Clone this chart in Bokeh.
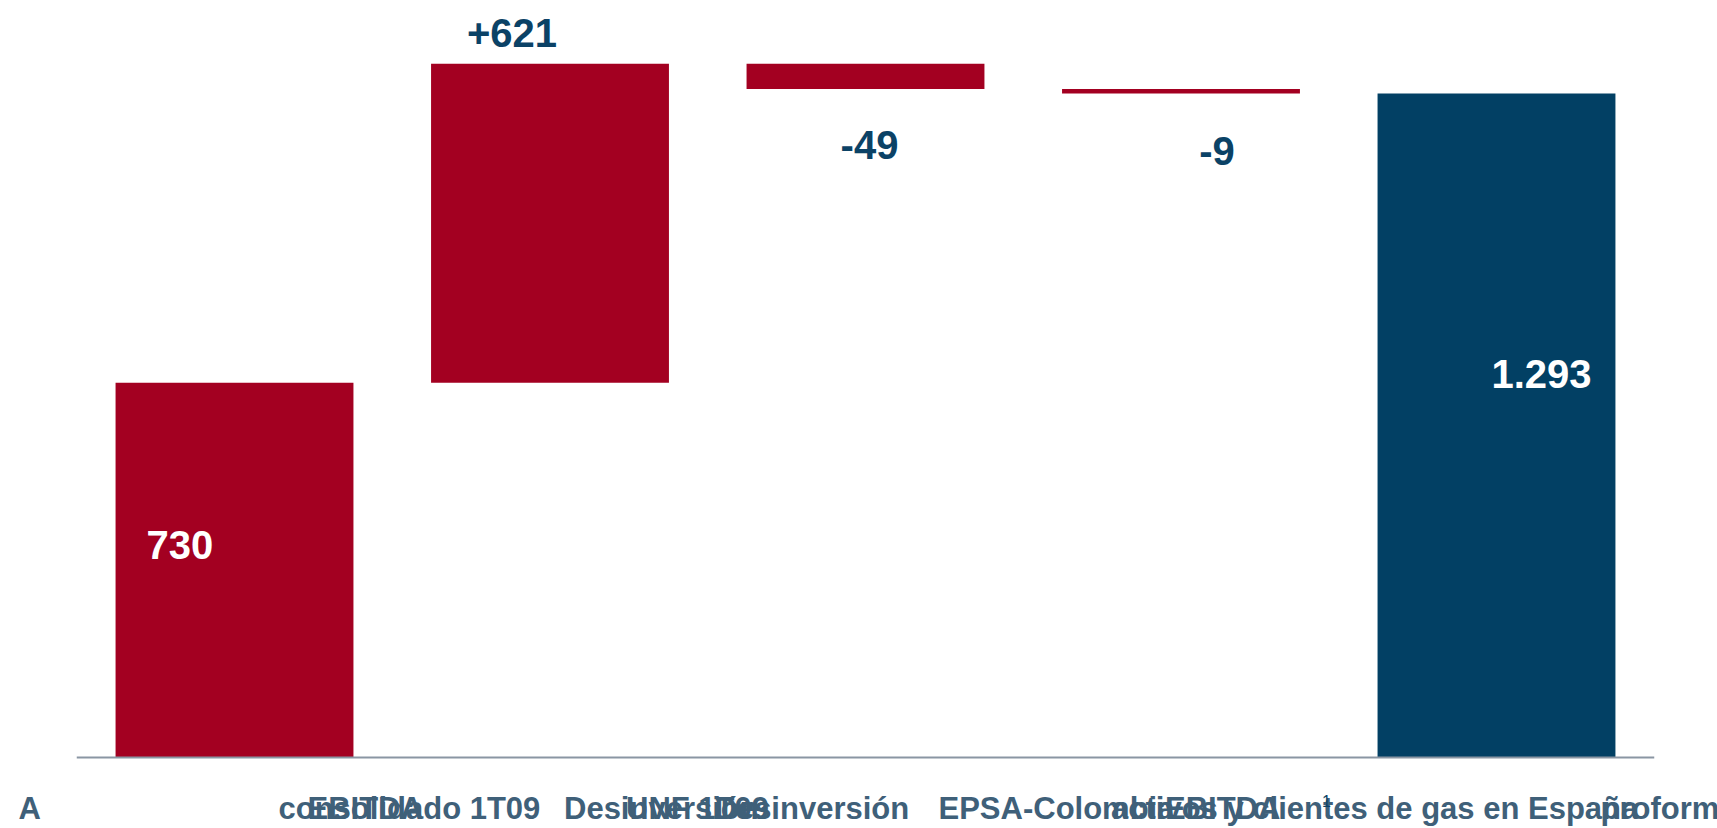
from bokeh.plotting import figure
from bokeh.models import Range1d, ColumnDataSource
from bokeh.core.properties import value
from bokeh.embed import file_html
from bokeh.resources import INLINE

# ---- data ----
start_value = 730
deltas = [621, -49, -9]
total_value = 1293
bar_labels = ["730", "+621", "-49", "-9", "1.293"]

# category label fragments (as they appear, overlapping, on one baseline)
label_texts = ["A", "consolidado 1T09", "EBITDA", "Desinversión", "UNF 1T09",
               "Desinversión", "EPSA-Colombia", "activos y clientes de gas en España",
               "EBITDA", "proforma"]
label_cats = [0, 0, 0, 1, 1, 2, 2, 3, 3, 4]
label_offsets = [-216, 44, 73, 14, 76, -151, 73, -70, -16, 104]

RED = "#a30021"
NAVY = "#024064"
LABEL_NAVY = "#0b4266"
CAT_COLOR = "#3f6079"
FONT = "Liberation Sans"
DY = -16  # baseline correction for 40px text

# waterfall geometry
n = 2 + len(deltas)
xs = list(range(n))
bottoms, tops = [0], [start_value]
run = start_value
for d in deltas:
    nxt = run + d
    bottoms.append(min(run, nxt))
    tops.append(max(run, nxt))
    run = nxt
bottoms.append(0)
tops.append(total_value)
colors = [RED] * (n - 1) + [NAVY]

p = figure(width=1717, height=828, x_range=Range1d(-0.7417, 4.7005),
           y_range=Range1d(-138.3, 1474.2), min_border=0,
           output_backend="svg", toolbar_location=None)
p.axis.visible = False
p.xgrid.visible = False
p.ygrid.visible = False
p.outline_line_color = None
p.background_fill_color = "white"
p.border_fill_color = "white"

src = ColumnDataSource(dict(x=xs, bottom=bottoms, top=tops, color=colors))
p.vbar(x="x", bottom="bottom", top="top", width=0.754, color="color",
       line_color=None, source=src)

# baseline axis line
p.segment(x0=[-0.5], y0=[0], x1=[n - 0.5], y1=[0], line_color="#8a96a3", line_width=2)

def label(x, y, t, xo, yo, color, align):
    p.text(x=[x], y=[y], text=[t], x_offset=xo, y_offset=yo + DY,
           text_font=value(FONT), text_font_style="bold", text_font_size="40px",
           text_color=color, text_align=align, text_baseline="alphabetic")

label(xs[0], tops[0], bar_labels[0], -88, 178, "white", "left")
label(xs[1], tops[1], bar_labels[1], -38, -15, LABEL_NAVY, "center")
label(xs[2], bottoms[2], bar_labels[2], 4, 72, LABEL_NAVY, "center")
label(xs[3], bottoms[3], bar_labels[3], 36, 73, LABEL_NAVY, "center")
label(xs[4], tops[4], bar_labels[4], 95, 296, "white", "right")

# category label fragments
for t, c, off in zip(label_texts, label_cats, label_offsets):
    p.text(x=[c], y=[0], text=[t], x_offset=off, y_offset=51,
           text_font=value(FONT), text_font_style="bold", text_font_size="31px",
           text_color=CAT_COLOR, text_align="left", text_baseline="alphabetic")
# superscript footnote mark
p.text(x=[3], y=[0], text=["1"], x_offset=141, y_offset=44,
       text_font=value(FONT), text_font_size="16px",
       text_color=LABEL_NAVY, text_align="left", text_baseline="alphabetic")

open("out.html", "w").write(file_html(p, INLINE))
